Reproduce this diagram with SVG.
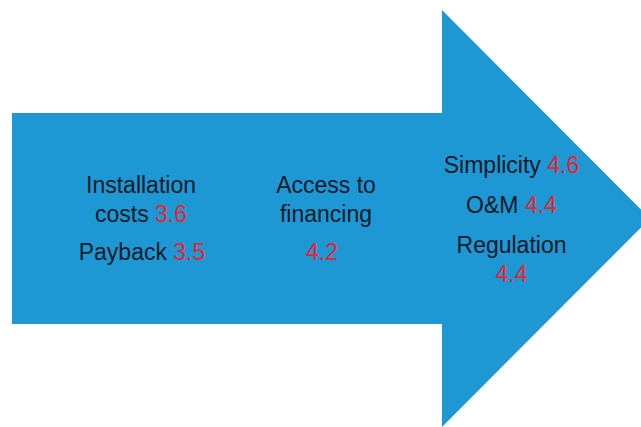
<svg xmlns="http://www.w3.org/2000/svg" width="641" height="427" viewBox="0 0 641 427">
<style>
.t{font-family:"Liberation Sans",Arial,sans-serif;font-size:23px;fill:#0f1a26;text-anchor:middle}
.n{fill:#f0222c}
</style>
<rect width="641" height="427" fill="#ffffff"/>
<g id="arrow">
<polygon points="12,113 442,113 442,10 650,218.5 442,427 442,324 12,324" fill="#1e97d5"/>
</g>
<g id="col1">
<text class="t" x="141" y="193">Installation</text>
<text class="t" x="141" y="222">costs <tspan class="n">3.6</tspan></text>
<text class="t" x="142" y="260">Payback <tspan class="n">3.5</tspan></text>
</g>
<g id="col2">
<text class="t" x="326" y="193">Access to</text>
<text class="t" x="326" y="222">financing</text>
<text class="t n" x="322" y="260">4.2</text>
</g>
<g id="col3">
<text class="t" x="511.5" y="173">Simplicity <tspan class="n">4.6</tspan></text>
<text class="t" x="511.5" y="213">O&amp;M <tspan class="n">4.4</tspan></text>
<text class="t" x="511.5" y="253">Regulation</text>
<text class="t n" x="511.5" y="282">4.4</text>
</g>
</svg>
